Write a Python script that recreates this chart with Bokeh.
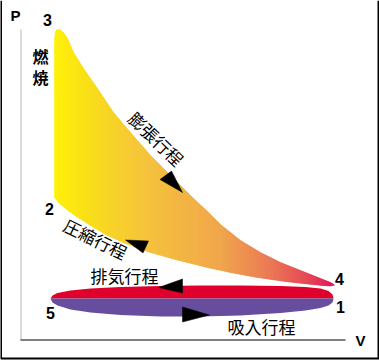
import numpy as np
from bokeh.plotting import figure
from bokeh.models import Range1d
from bokeh.core.properties import value
from bokeh.embed import file_html
from bokeh.resources import INLINE

# ---- data (V and P in arbitrary units) ----
# expansion stroke (upper edge of the working region, from point 3 to point 4)
upper_v = [34, 34.5, 36, 38, 40, 43, 47, 53, 63, 77, 93, 110, 130, 153, 173, 187, 200, 220, 240, 260, 280, 295, 305, 310, 314]
upper_p = [301, 307, 309.5, 310, 309.5, 307, 301, 287, 271, 251, 227, 207, 184, 161, 141, 128, 115, 99, 87, 77, 69, 63, 59, 57, 54.5]
# compression stroke (lower edge, from point 2 towards point 4)
lower_v = [34, 38, 45, 53, 70, 87, 105, 130, 155, 187, 210, 237, 265, 287, 302, 310, 314]
lower_p = [142, 137, 131, 125, 114, 104, 96, 87, 80, 72, 67, 62, 58, 55.5, 54, 53.5, 54.5]

# exhaust / intake strokes (between point 5 and point 1)
stroke_v = [30, 32, 37, 50, 70, 100, 140, 180, 220, 260, 285, 300, 308, 312, 313]
exhaust_p = [41, 44, 46.5, 49, 51, 52.5, 53.5, 54, 54, 53.5, 52.5, 51, 48.5, 45, 41]
intake_p = [41, 37, 34, 30, 27, 24.5, 23, 23, 24, 26.5, 29, 31.5, 34, 37, 41]
stroke_axis_p = 41

# colour stops of the gradient across V
grad_v = [34, 60, 120, 200, 250, 290, 314]
grad_r = [255, 250, 245, 240, 234, 228, 222]
grad_g = [240, 225, 195, 162, 115, 60, 10]
grad_b = [0, 10, 50, 68, 78, 80, 85]

# arrow heads (triangles)
arrow_xs = [[139.5, 151, 162], [105, 128, 122.5], [138, 162, 162], [162, 162, 189]]
arrow_ys = [[160, 168.5, 147], [99.5, 98.5, 86.5], [52, 60.5, 46.5], [32.5, 17.5, 24.5]]

# point labels
pt_labels = ["3", "2", "4", "1", "5"]
pt_v = [27, 29, 319, 320, 30]
pt_p = [319.5, 131, 61, 33, 27]

# axis labels
ax_labels = ["P", "V"]
ax_v = [-5, 340]
ax_p = [324, -1]

# combustion label (vertical)
comb_labels = ["燃", "焼"]
comb_v = [20, 20]
comb_p = [284, 263]

# stroke names
stroke_names = ["排気行程", "吸入行程"]
stroke_name_v = [104, 241]
stroke_name_p = [64.5, 13]
rot_names = ["膨張行程", "圧縮行程"]
rot_v = [136, 75]
rot_p = [201, 101]
rot_angle_deg = [-44, -26]

# ---- figure ----
p = figure(width=379, height=360, x_range=Range1d(-20, 359), y_range=Range1d(-21, 339),
           output_backend="svg", toolbar_location=None, x_axis_type=None, y_axis_type=None,
           min_border=0, background_fill_color="white", border_fill_color="white")
p.outline_line_color = None

# gradient-filled working region built from thin strips
n = 280
edges = np.linspace(upper_v[0], upper_v[-1], n + 1)
up = np.interp(edges, upper_v, upper_p)
lo = np.interp(edges, lower_v, lower_p)
xs, ys, cols = [], [], []
for i in range(n):
    x0, x1 = edges[i], edges[i + 1]
    xs.append([x0, x1, x1, x0])
    ys.append([up[i], up[i + 1], lo[i + 1], lo[i]])
    m = 0.5 * (x0 + x1)
    r = int(round(np.interp(m, grad_v, grad_r)))
    g = int(round(np.interp(m, grad_v, grad_g)))
    b = int(round(np.interp(m, grad_v, grad_b)))
    cols.append("#%02x%02x%02x" % (r, g, b))
p.patches(xs, ys, fill_color=cols, line_color=cols, line_width=0.6)

# exhaust (red) and intake (purple) strokes
p.varea(x=stroke_v, y1=[stroke_axis_p] * len(stroke_v), y2=exhaust_p, fill_color="#e0002c")
p.varea(x=stroke_v, y1=intake_p, y2=[stroke_axis_p] * len(stroke_v), fill_color="#664d9e")

# axes
p.segment(x0=[0.5], y0=[0], x1=[0.5], y1=[310], line_color="#b4b4b4", line_width=1)
p.segment(x0=[0], y0=[-0.5], x1=[325], y1=[-0.5], line_color="black", line_width=1.2)
# frame (left, right and bottom)
p.segment(x0=[-19.5, 358, -20], y0=[-19, -19, -19], x1=[-19.5, 358, 359], y1=[339, 339, -19],
          line_color="black", line_width=2)

# arrows
p.patches(arrow_xs, arrow_ys, fill_color="black", line_color="black", line_width=0.5)

# texts
p.text(x=pt_v, y=pt_p, text=pt_labels, text_font=value("Liberation Sans"), text_font_style="bold",
       text_font_size="16px", text_align="center", text_baseline="middle", text_color="black")
p.text(x=ax_v, y=ax_p, text=ax_labels, text_font=value("Liberation Sans"), text_font_style="bold",
       text_font_size="15px", text_align="center", text_baseline="middle", text_color="black")
p.text(x=comb_v, y=comb_p, text=comb_labels, text_font=value("Noto Sans CJK JP"), text_font_style="bold",
       text_font_size="16px", text_align="center", text_baseline="middle", text_color="black")
p.text(x=stroke_name_v, y=stroke_name_p, text=stroke_names, text_font=value("Noto Sans CJK JP"),
       text_font_size="17px", text_align="center", text_baseline="middle", text_color="black")
p.text(x=rot_v, y=rot_p, text=rot_names, angle=[np.deg2rad(a) for a in rot_angle_deg],
       text_font=value("Noto Sans CJK JP"), text_font_size="17px", text_align="center",
       text_baseline="middle", text_color="black")

open("out.html", "w").write(file_html(p, INLINE))
